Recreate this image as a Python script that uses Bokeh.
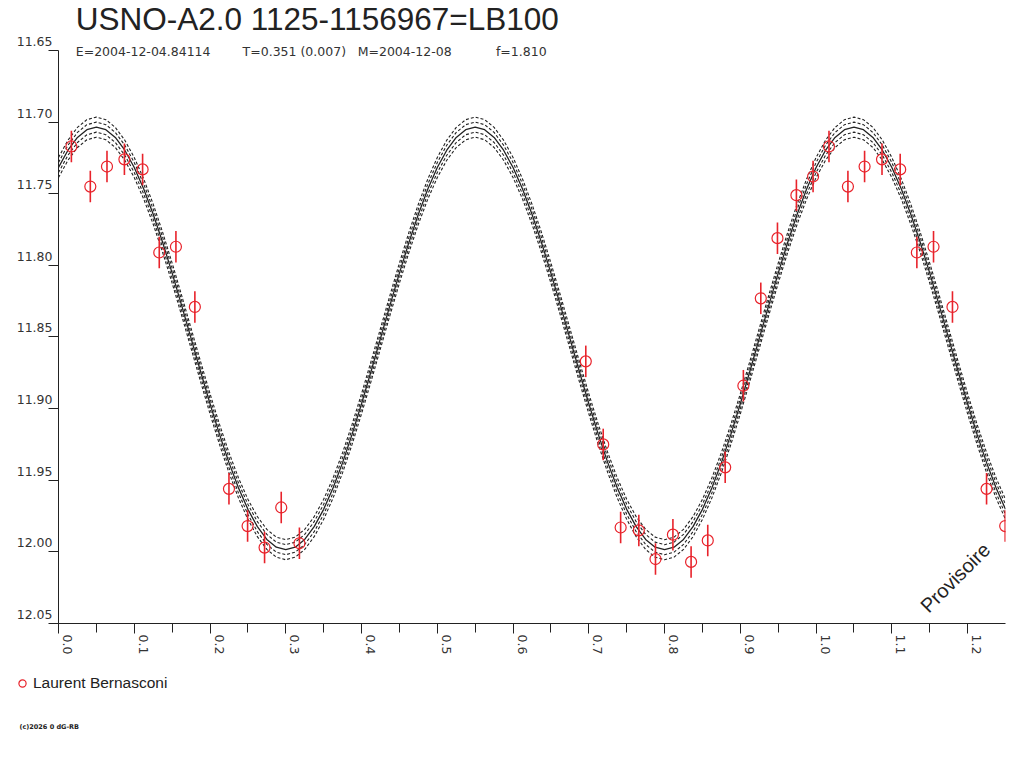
import math
from bokeh.plotting import figure
from bokeh.layouts import column
from bokeh.models import (Range1d, SingleIntervalTicker, CustomJSTickFormatter, Label,
                          Legend, LegendItem, ColumnDataSource)
from bokeh.embed import file_html
from bokeh.resources import INLINE

# ---------------- data ----------------
title_text = "USNO-A2.0 1125-1156967=LB100"
subtitle_parts = ["E=2004-12-04.84114", "T=0.351 (0.007)", "M=2004-12-08", "f=1.810"]
observer = "Laurent Bernasconi"
watermark = "Provisoire"
copyright_text = "(c)2026 0 dG-RB"

# observed points (phase, magnitude, error)
obs_phase = [0.017, 0.042, 0.064, 0.087, 0.111, 0.133, 0.155, 0.180, 0.225, 0.2496,
             0.272, 0.294, 0.318, 0.696, 0.719, 0.742, 0.766, 0.788, 0.811, 0.835,
             0.857, 0.880, 0.904, 0.927, 0.949, 0.974, 0.996]
obs_mag = [11.717, 11.745, 11.731, 11.726, 11.733, 11.791, 11.787, 11.829, 11.956, 11.982,
           11.997, 11.969, 11.994, 11.867, 11.925, 11.983, 11.985, 12.005, 11.988, 12.007,
           11.992, 11.941, 11.884, 11.823, 11.781, 11.751, 11.738]
obs_err = [0.011] * len(obs_mag)

# fitted light curve, sampled every 0.0125 in phase from 0.0 to 1.25
curve_step = 0.0125
curve_mag = [11.7317, 11.7196, 11.7107, 11.7053, 11.7035, 11.7053, 11.7107, 11.7196, 11.7317, 11.7467,
             11.7643, 11.7840, 11.8054, 11.8279, 11.8510, 11.8741, 11.8966, 11.9180, 11.9377, 11.9553,
             11.9703, 11.9824, 11.9913, 11.9967, 11.9985, 11.9967, 11.9913, 11.9824, 11.9703, 11.9553,
             11.9377, 11.9180, 11.8966, 11.8741, 11.8510, 11.8279, 11.8054, 11.7840, 11.7643, 11.7467,
             11.7317, 11.7196, 11.7107, 11.7053, 11.7035, 11.7053, 11.7107, 11.7196, 11.7317, 11.7467,
             11.7643, 11.7840, 11.8054, 11.8279, 11.8510, 11.8741, 11.8966, 11.9180, 11.9377, 11.9553,
             11.9703, 11.9824, 11.9913, 11.9967, 11.9985, 11.9967, 11.9913, 11.9824, 11.9703, 11.9553,
             11.9377, 11.9180, 11.8966, 11.8741, 11.8510, 11.8279, 11.8054, 11.7840, 11.7643, 11.7467,
             11.7317, 11.7196, 11.7107, 11.7053, 11.7035, 11.7053, 11.7107, 11.7196, 11.7317, 11.7467,
             11.7643, 11.7840, 11.8054, 11.8279, 11.8510, 11.8741, 11.8966, 11.9180, 11.9377, 11.9553,
             11.9703]
envelope_offsets = [-0.007, -0.0035, 0.0035, 0.007]

# axis extent
MAG_TOP, MAG_BOTTOM = 11.65, 12.05
PH_MAX = 1.25

# ---------------- build ----------------
ext_phase = obs_phase + [ph + 1 for ph in obs_phase if ph + 1 <= PH_MAX]
ext_mag = obs_mag + [m for ph, m in zip(obs_phase, obs_mag) if ph + 1 <= PH_MAX]
ext_err = obs_err + [e for ph, e in zip(obs_phase, obs_err) if ph + 1 <= PH_MAX]
curve_phase = [i * curve_step for i in range(len(curve_mag))]

RED = "#e8232b"
INK = "#222222"
LBL = "#333333"
W = 1016

# ---------------- main plot ----------------
# the frame reaches the top of the page (room for title and subtitle);
# the y axis itself is bounded to 11.65..12.05
p = figure(width=W, height=663, output_backend="svg", toolbar_location=None,
           x_range=Range1d(0, PH_MAX), y_range=Range1d(MAG_BOTTOM, 11.6151),
           min_border_left=58, min_border_right=11, min_border_top=0,
           min_border_bottom=40)
p.frame_align = False
p.outline_line_color = None
p.xgrid.visible = False
p.ygrid.visible = False
p.background_fill_color = "white"
p.border_fill_color = "white"

xa = p.xaxis[0]
xa.ticker = SingleIntervalTicker(interval=0.1, num_minor_ticks=2)
xa.formatter = CustomJSTickFormatter(code="return tick.toFixed(1) + '\\n ';")
xa.major_label_orientation = -math.pi / 2
xa.major_tick_out = 10
xa.major_tick_in = 0
xa.minor_tick_out = 9
xa.minor_tick_in = 0
xa.major_label_standoff = 1
xa.axis_line_color = INK
xa.major_tick_line_color = INK
xa.minor_tick_line_color = INK
xa.major_label_text_font = "DejaVu Sans"
xa.major_label_text_font_size = "12.5px"
xa.major_label_text_color = LBL

ya = p.yaxis[0]
ya.bounds = (MAG_TOP, MAG_BOTTOM)
ya.ticker = SingleIntervalTicker(interval=0.05, num_minor_ticks=0)
ya.formatter = CustomJSTickFormatter(code="return tick.toFixed(2) + '\\n ';")
ya.major_tick_out = 10
ya.major_tick_in = 0
ya.minor_tick_line_color = None
ya.major_label_standoff = -4
ya.axis_line_color = INK
ya.major_tick_line_color = INK
ya.major_label_text_font = "DejaVu Sans"
ya.major_label_text_font_size = "12.5px"
ya.major_label_text_color = LBL

# fitted curves
for off in envelope_offsets:
    p.line(curve_phase, [m + off for m in curve_mag], line_color=INK, line_width=1.1,
           line_dash="3 2")
p.line(curve_phase, curve_mag, line_color=INK, line_width=1.3)

# observations
src = ColumnDataSource(dict(ph=ext_phase, mag=ext_mag,
                            lo=[m - e for m, e in zip(ext_mag, ext_err)],
                            hi=[m + e for m, e in zip(ext_mag, ext_err)]))
p.segment(x0="ph", y0="lo", x1="ph", y1="hi", source=src, line_color=RED, line_width=1.6)
p.scatter("ph", "mag", source=src, marker="circle", size=11, fill_color=None,
          line_color=RED, line_width=1.2)

# title, subtitle, watermark
p.add_layout(Label(x=0.0228, y=11.62815, text=title_text, text_font="Liberation Sans",
                   text_font_size="31.5px", text_color=INK, text_baseline="alphabetic"))
for xpos, part in zip([0.0228, 0.2430, 0.3949, 0.5774], subtitle_parts):
    p.add_layout(Label(x=xpos, y=11.651, text=part, text_font="DejaVu Sans",
                       text_font_size="12.5px", text_color=LBL,
                       text_baseline="alphabetic"))
p.add_layout(Label(x=1.142, y=12.040, text=watermark, angle=math.pi / 4,
                   text_font="Liberation Sans", text_font_size="20px", text_color=INK,
                   text_baseline="alphabetic"))

# ---------------- footer: legend + copyright ----------------
FH = 89
f = figure(width=W, height=FH, output_backend="svg", toolbar_location=None,
           x_range=Range1d(0, W), y_range=Range1d(FH, 0),
           x_axis_location=None, y_axis_location=None,
           min_border_left=0, min_border_right=0, min_border_top=0, min_border_bottom=0)
f.frame_align = False
f.outline_line_color = None
f.grid.visible = False
f.background_fill_color = "white"
f.border_fill_color = "white"
r_leg = f.scatter(x=[-500], y=[-500], marker="circle", size=11, fill_color=None,
                  line_color=RED, line_width=1.2)
legend = Legend(items=[LegendItem(label=observer, renderers=[r_leg])],
                location=(13, 60), padding=0, margin=0, spacing=0,
                glyph_width=18, glyph_height=18, label_standoff=2,
                label_text_font="Liberation Sans", label_text_font_size="15.5px",
                label_text_color=INK, border_line_color=None,
                background_fill_alpha=0)
f.add_layout(legend)
f.add_layout(Label(x=19, y=63, text=copyright_text, text_font="DejaVu Sans",
                   text_font_size="6.5px", text_font_style="bold", text_color=INK,
                   text_baseline="middle"))

open("out.html", "w").write(file_html(column(p, f, spacing=0), INLINE))
